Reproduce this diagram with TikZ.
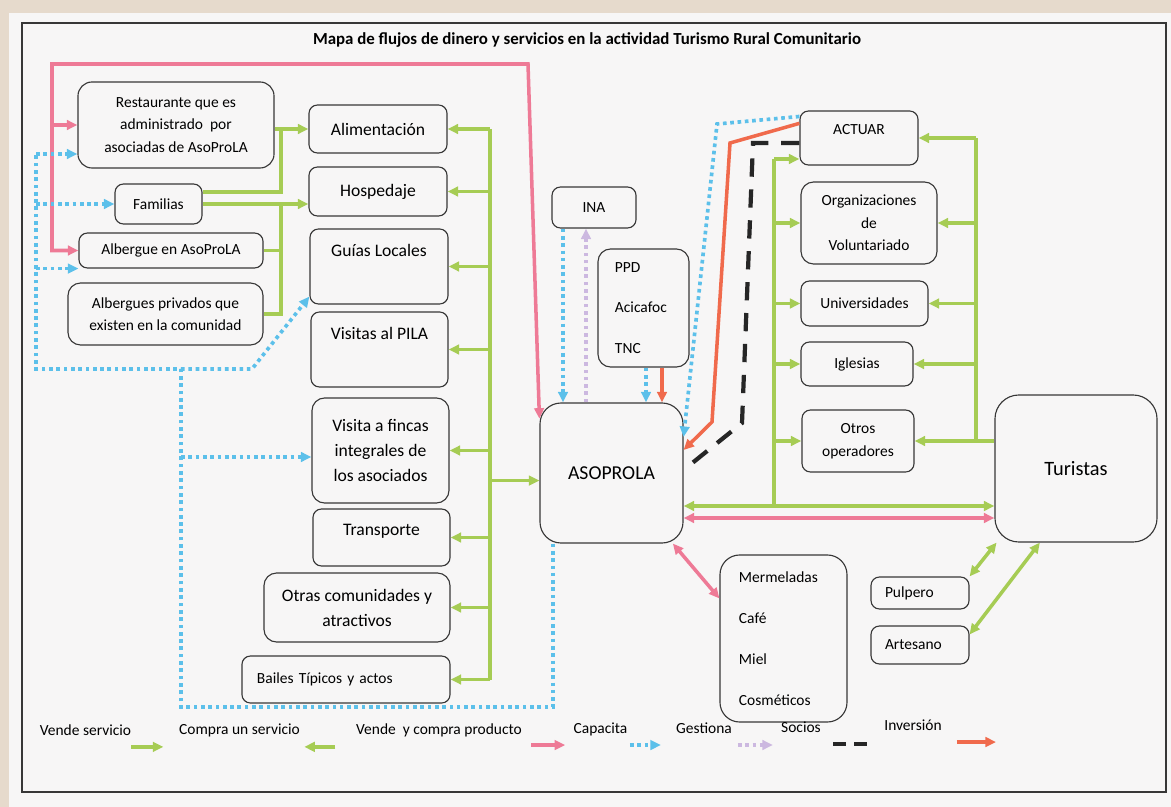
\documentclass[tikz,border=0pt]{standalone}
\usepackage{fontspec}
\setmainfont{Carlito}
\usepackage{tikz}
\usetikzlibrary{arrows.meta,positioning}
\definecolor{vgreen}{RGB}{166,204,84}
\definecolor{vpink}{RGB}{238,122,150}
\definecolor{vblue}{RGB}{92,192,234}
\definecolor{vlila}{RGB}{204,184,224}
\definecolor{vorange}{RGB}{240,106,76}
\definecolor{vpaper}{RGB}{247,246,246}
\definecolor{vbeige}{RGB}{230,218,204}
\definecolor{vline}{RGB}{55,55,55}

\begin{document}
\begin{tikzpicture}[x=0.025cm,y=-0.025cm,>={Triangle[length=7.5pt,width=6.8pt]}]
                \tikzstyle{every node}+=[inner sep=0pt]
                \tikzstyle{box}=[draw=vline,line width=0.8pt,rounded corners=6pt]
                \tikzstyle{txt}=[font=\fontsize{11}{16}\selectfont,align=center]
                \tikzstyle{stxt}=[font=\fontsize{12.5}{17.8}\selectfont,align=center]
                \tikzstyle{leg}=[font=\fontsize{11}{13}\selectfont]
                \tikzstyle{gl}=[draw=vgreen,line width=2.5pt]
                \tikzstyle{gk}=[gl,->]
                \tikzstyle{pk}=[draw=vpink,line width=2.5pt,->]
                \tikzstyle{bl}=[draw=vblue,line width=2.6pt,dash pattern=on 2.6pt off 2.6pt]
                \tikzstyle{bk}=[bl,->]
                \tikzstyle{pu}=[draw=vlila,line width=2.6pt,dash pattern=on 2.6pt off 2.6pt,->]
                \tikzstyle{ok}=[draw=vorange,line width=2.5pt,->]
                \tikzstyle{kd}=[draw=black!85,line width=3pt,dash pattern=on 13pt off 9pt]
                \useasboundingbox (0,0) rectangle (1171,807);
                % paper and frame
                \fill [vbeige] (0,0) rectangle (1171,807);
                \fill [vpaper] (9,13) rectangle (1171,807);
                \draw [vline,line width=1pt] (22,23) rectangle (1166,792);
                \node [font=\fontsize{12}{14}\selectfont\bfseries] (title) at (587,40) {Mapa de flujos de dinero y servicios en la actividad Turismo Rural Comunitario};
                % left providers
                \node [box,txt,rounded corners=10pt,minimum width=4.9cm,minimum height=2.15cm] (rest) at (176,125) {Restaurante que es\\administrado~ por\\asociadas de AsoProLA};
                \node [box,txt,minimum width=2.175cm,minimum height=1cm] (fam) at (158.5,204) {Familias};
                \node [box,txt,minimum width=4.6cm,minimum height=0.875cm] (albA) at (171,250.5) {Albergue en AsoProLA};
                \node [box,txt,rounded corners=9pt,minimum width=4.875cm,minimum height=1.55cm] (albP) at (165.5,314) {Albergues privados que\\existen en la comunidad};
                % services
                \node [box,stxt,minimum width=3.45cm,minimum height=1.2cm] (alim) at (378,129) {Alimentación};
                \node [box,stxt,minimum width=3.45cm,minimum height=1.225cm] (hosp) at (378,191.5) {Hospedaje};
                \node [box,minimum width=3.45cm,minimum height=1.875cm,label={[stxt,yshift=11.7pt]center:Guías Locales}] (guias) at (379,266.5) {};
                \node [box,minimum width=3.425cm,minimum height=1.875cm,label={[stxt,yshift=11.7pt]center:Visitas al PILA}] (pila) at (379.5,349.5) {};
                \node [box,stxt,rounded corners=9pt,minimum width=3.425cm,minimum height=2.625cm] (fincas) at (380.5,450.5) {Visita a fincas\\integrales de\\los asociados};
                \node [box,minimum width=3.425cm,minimum height=1.425cm,label={[stxt,yshift=4.6pt]center:Transporte}] (transp) at (381.5,537.5) {};
                \node [box,stxt,rounded corners=9pt,minimum width=4.65cm,minimum height=1.725cm] (otras) at (357,607.5) {Otras comunidades y\\atractivos};
                \node [box,txt,align=left,text width=4.45cm,minimum width=5.2cm,minimum height=1.175cm] (bailes) at (346,679.5) {Bailes Típicos y actos};
                % centre
                \node [box,rounded corners=15pt,minimum width=3.575cm,minimum height=3.5cm,font=\fontsize{14}{16}\selectfont] (aso) at (611.5,473) {ASOPROLA};
                \node [box,txt,minimum width=2.1cm,minimum height=1.025cm] (ina) at (594,207.5) {INA};
                \node [box,rounded corners=9pt,font=\fontsize{11}{29}\selectfont,align=left,text width=1.425cm,minimum width=2.275cm,minimum height=2.95cm] (ppd) at (643.5,308) {PPD\\Acicafoc\\TNC};
                % right side
                \node [box,minimum width=2.95cm,minimum height=1.35cm,label={[txt,yshift=5.7pt]center:ACTUAR}] (actuar) at (859,138) {};
                \node [box,txt,rounded corners=9pt,minimum width=3.4cm,minimum height=2.05cm] (org) at (869,223) {Organizaciones\\de\\Voluntariado};
                \node [box,txt,minimum width=3.175cm,minimum height=1.125cm] (univ) at (864.5,303.5) {Universidades};
                \node [box,txt,minimum width=2.8cm,minimum height=1.1cm] (igl) at (857,364) {Iglesias};
                \node [box,txt,minimum width=2.8cm,minimum height=1.55cm] (otrosop) at (858,441) {Otros\\operadores};
                \node [box,rounded corners=17pt,minimum width=4.05cm,minimum height=3.675cm,font=\fontsize{14.5}{16}\selectfont] (tur) at (1076,468.5) {Turistas};
                \node [box,rounded corners=14pt,font=\fontsize{11}{29.2}\selectfont,align=left,text width=2.225cm,minimum width=3.175cm,minimum height=4.175cm] (prod) at (783.5,638.5) {Mermeladas\\Café\\Miel\\Cosméticos};
                \node [box,txt,align=left,text width=1.75cm,minimum width=2.45cm,minimum height=0.8cm] (pulp) at (920,593) {Pulpero};
                \node [box,txt,align=left,text width=1.75cm,minimum width=2.45cm,minimum height=0.95cm] (art) at (920,645) {Artesano};
                % joints
                \coordinate (jl) at (281,0);
                \coordinate (jc) at (490,0);
                \coordinate (jm) at (774,0);
                \coordinate (jr) at (976,0);
                \coordinate (gy) at (0,506);
                \coordinate (py) at (0,518);
                \coordinate (ga) at (774,159);
                % green: vende / compra
                \draw [gk] (rest.east |- alim.west) -- (alim.west);
                \draw [gl] (fam.15) -| (jl |- alim.west);
                \draw [gk] (fam.east) -- (fam.east -| hosp.west);
                \draw [gl] (albA.east) -| (jl |- fam.east);
                \draw [gl] (albP.east) -| (jl |- fam.east);
                \draw [gl] (jc |- alim.east) -- (jc |- bailes.east);
                \foreach \n in {alim,hosp,guias,pila,fincas,transp,otras,bailes}
                    \draw [gk] (jc |- \n.east) -- (\n.east);
                \draw [gk] (jc |- aso.186) -- (aso.186);
                \draw [gl] (tur.west |- otrosop.east) -- (jr |- otrosop.east) -- (jr |- actuar.east);
                \foreach \n in {actuar,org,univ,igl,otrosop}
                    \draw [gk] (jr |- \n.east) -- (\n.east);
                \draw [gl] (ga) -- (jm |- gy);
                \draw [gk] (ga) -- (ga -| actuar.west);
                \foreach \n in {org,univ,igl,otrosop}
                    \draw [gk] (jm |- \n.west) -- (\n.west);
                \draw [gk,<->] (aso.east |- gy) -- (tur.west |- gy);
                \draw [gk,<->] (pulp.north east) -- (tur.-137);
                \draw [gk,<->] (art.12) -- (tur.-116);
                % pink: capacita
                \coordinate (pa) at (52,64);
                \coordinate (pb) at (528,64);
                \draw [pk,<->] (albA.west) -| (pa) -- (pb) -- (aso.143);
                \draw [pk] (pa |- rest.west) -- (rest.west);
                \draw [pk,<->] (aso.east |- py) -- (tur.west |- py);
                \draw [pk,<->] (aso.-49) -- (prod.148);
                % INA, PPD
                \coordinate (xb) at (563,0);
                \coordinate (xp) at (586,0);
                \coordinate (xq) at (646,0);
                \coordinate (xo) at (662,0);
                \draw [bk] (xb |- ina.south) -- (xb |- aso.north);
                \draw [pu] (xp |- aso.north) -- (xp |- ina.south);
                \draw [bk] (xq |- ppd.south) -- (xq |- aso.north);
                \draw [ok] (xo |- ppd.south) -- (xo |- aso.north);
                % ACTUAR
                \coordinate (ba) at (717,124);
                \coordinate (be) at (0,437);
                \draw [bk] ([yshift=-4.3pt]actuar.north west) -- (ba) -- (aso.east |- be);
                \coordinate (oa) at (730,143);
                \coordinate (ob) at (712,422);
                \coordinate (oe) at (0,450);
                \draw [ok] ([yshift=-9.2pt]actuar.north west) -- (oa) -- (ob) -- (aso.east |- oe);
                \coordinate (ka) at (753,143);
                \coordinate (kb) at (742,423);
                \coordinate (ke) at (0,470);
                \draw [kd] ([yshift=-3.6pt]actuar.west) -- (ka) -- (kb) -- (aso.east |- ke);
                % blue: gestiona
                \coordinate (xg) at (553,0);
                \coordinate (ga1) at (553,707);
                \coordinate (gb) at (181,707);
                \coordinate (gm) at (181,369);
                \coordinate (gll) at (36,369);
                \coordinate (gr) at (36,154);
                \coordinate (gd) at (252,369);
                \coordinate (gf) at (181,457);
                \draw [bl] (xg |- aso.south) -- (ga1) -- (gb) -- (gm) -- (gll) -- (gr);
                \draw [bk] (gr) -- (gr -| rest.west);
                \draw [bk] (gll |- fam.west) -- (fam.west);
                \draw [bk] (gll |- albA.south west) -- (albA.south west);
                \draw [bk] (gm) -- (gd) -- ([yshift=5.7pt]guias.south west);
                \draw [bk] (gf) -- (gf -| fincas.west);
                % legend
                \node [leg] (lvs) at (85.5,730) {Vende servicio};
                \node [leg] (lcs) at (239.5,730) {Compra un servicio};
                \node [leg] (lvc) at (439,730) {Vende~ y compra producto};
                \node [leg] (lca) at (600.5,729) {Capacita};
                \node [leg] (lge) at (704,728) {Gestiona};
                \node [leg] (lso) at (801,727) {Socios};
                \node [leg] (lin) at (913,725) {Inversión};
                \draw [gk] ([yshift=-12pt]lvs.east) -- ++(32,0);
                \draw [gk] ([xshift=25pt,yshift=-12pt]lcs.east) -- ++(-31,0);
                \draw [pk] ([xshift=-30pt,yshift=-11.4pt]lca.west) -- ++(34,0);
                \draw [bk] ([xshift=-32.7pt,yshift=-12.1pt]lge.west) -- ++(31,0);
                \draw [pu] ([xshift=-30.6pt,yshift=-12.8pt]lso.west) -- ++(35,0);
                \draw [kd,dash pattern=on 9pt off 6pt] ([xshift=8.5pt,yshift=-12.1pt]lso.east) -- ++(38,0);
                \draw [ok] ([xshift=10.7pt,yshift=-12.1pt]lin.east) -- ++(39,0);
            \end{tikzpicture}
\end{document}
